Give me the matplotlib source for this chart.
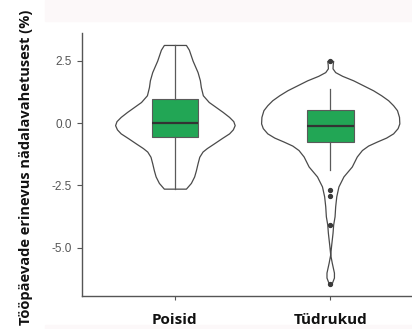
import matplotlib
matplotlib.use("Agg")
import matplotlib.pyplot as plt
from matplotlib.patches import Rectangle

# groups on the x axis
groups = ["Poisid", "Tüdrukud"]

# violin outlines: y value and half width (x units) of each density profile
poisid_y = [3.14, 2.95, 2.51, 2.05, 1.72, 1.45, 1.12, 0.85, 0.65, 0.45, 0.25, 0.08,
            -0.08, -0.25, -0.41, -0.6, -0.81, -1.0, -1.14, -1.35, -1.61, -1.9,
            -2.14, -2.4, -2.63]
poisid_dens = [0.071, 0.090, 0.114, 0.146, 0.161, 0.167, 0.180, 0.218, 0.263, 0.308,
               0.349, 0.376, 0.385, 0.373, 0.349, 0.302, 0.252, 0.206, 0.178, 0.157,
               0.146, 0.135, 0.124, 0.103, 0.071]

tydrukud_y = [2.50, 2.35, 2.2, 2.05, 1.9, 1.72, 1.52, 1.32, 1.12, 0.92, 0.72, 0.52,
              0.25, -0.01, -0.2, -0.41, -0.58, -0.74, -0.9, -1.08, -1.34, -1.74,
              -2.14, -2.54, -2.94, -3.34, -3.74, -4.07, -4.4, -4.9, -5.27, -5.6,
              -6.0, -6.2, -6.46]
tydrukud_dens = [0.019, 0.016, 0.015, 0.032, 0.077, 0.148, 0.212, 0.276, 0.328, 0.373,
                 0.405, 0.430, 0.443, 0.445, 0.434, 0.405, 0.360, 0.300, 0.244, 0.204,
                 0.171, 0.139, 0.085, 0.053, 0.039, 0.032, 0.028, 0.019, 0.015, 0.006,
                 0.0, 0.010, 0.024, 0.024, 0.008]

# box plot summaries
q1 = [-0.55, -0.77]
med = [-0.01, -0.11]
q3 = [0.96, 0.53]
whis_lo = [-2.63, -1.89]
whis_hi = [3.14, 1.37]
fliers = [[], [2.5, -2.70, -2.91, -4.07, -6.46]]

yticks = [2.5, 0.0, -2.5, -5.0]

fig = plt.figure(figsize=(4.12, 3.29), dpi=100)
fig.patches.append(Rectangle((45 / 412, 1 - 21 / 329), 1, 21 / 329,
                             transform=fig.transFigure, color="#fcf8f9", zorder=-1))
fig.patches.append(Rectangle((45 / 412, 0), 1, 4 / 329,
                             transform=fig.transFigure, color="#fcf8f9", zorder=-1))

ax = fig.add_axes([81.7 / 412, 33 / 329, (423.4 - 81.7) / 412, (296 - 33) / 329])
ax.patch.set_alpha(0)

vpstats = []
for ys, ds in [(poisid_y, poisid_dens), (tydrukud_y, tydrukud_dens)]:
    vpstats.append(dict(coords=ys, vals=ds, mean=0, median=0, min=min(ys), max=max(ys)))
widths = [2 * max(poisid_dens), 2 * max(tydrukud_dens)]
parts = ax.violin(vpstats, positions=[1, 2], widths=widths,
                  showmeans=False, showextrema=False, showmedians=False)
for body in parts["bodies"]:
    body.set_facecolor("white")
    body.set_edgecolor("#4a4a4a")
    body.set_linewidth(0.9)
    body.set_alpha(1)

bstats = []
for i, g in enumerate(groups):
    bstats.append(dict(label=g, med=med[i], q1=q1[i], q3=q3[i],
                       whislo=whis_lo[i], whishi=whis_hi[i], fliers=fliers[i]))
ax.bxp(bstats, positions=[1, 2], widths=0.3, patch_artist=True, showcaps=False,
       boxprops=dict(facecolor="#22a655", edgecolor="#5a5a5a", linewidth=0.8),
       medianprops=dict(color="#333333", linewidth=1.6),
       whiskerprops=dict(color="#5a5a5a", linewidth=0.9),
       flierprops=dict(marker="o", markersize=2.8, markerfacecolor="#3a3a3a",
                       markeredgecolor="#3a3a3a"))

ax.set_xlim(0.4, 2.6)
ax.set_ylim(-6.94, 3.62)
ax.set_yticks(yticks)
ax.set_yticklabels([f"{t:.1f}" for t in yticks], family="Liberation Sans",
                   fontsize=8.5, color="#555555")
ax.set_xticks([1, 2])
ax.set_xticklabels(groups, family="Open Sans", fontweight="bold", fontsize=11,
                   color="#111111")
for lab in ax.get_xticklabels():
    lab.set_verticalalignment("baseline")
ax.tick_params(axis="y", length=3.5, width=0.8, color="#555555", pad=3.5)
ax.tick_params(axis="x", length=3, width=0.8, color="#555555", pad=17.5)
for side in ["top", "right"]:
    ax.spines[side].set_visible(False)
for side in ["left", "bottom"]:
    ax.spines[side].set_color("#555555")
    ax.spines[side].set_linewidth(1.0)

fig.text(26 / 412, 1 - 167 / 329, "Tööpäevade erinevus nädalavahetusest (%)",
         rotation=90, ha="center", va="center", family="Open Sans",
         fontweight="bold", fontsize=10.5, color="#111111")

fig.savefig("out.png", dpi=100)
